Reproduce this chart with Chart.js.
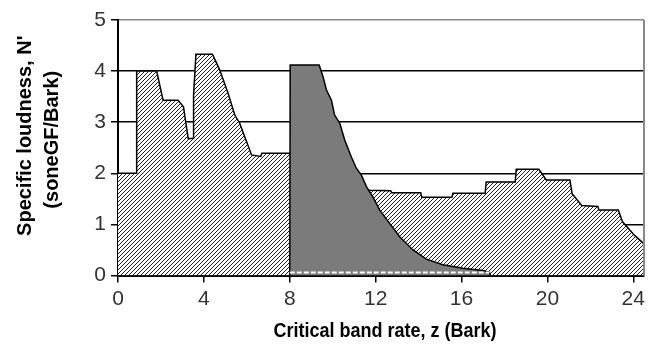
<!DOCTYPE html>
<html>
<head>
<meta charset="utf-8">
<script src="https://cdn.jsdelivr.net/npm/chart.js@4.4.1/dist/chart.umd.min.js"></script>
<style>
  html, body { margin: 0; padding: 0; background: #fff; }
  #wrap { width: 657px; height: 364px; }
</style>
</head>
<body>
<div id="wrap"><canvas id="loudnessChart" width="657" height="364"></canvas></div>
<script>
// total specific loudness (hatched)
const totalZ = [0, 0.85, 0.87, 1.8, 2.1, 2.8, 3.05, 3.27, 3.5, 3.52, 3.63, 4.4, 4.74, 5.13, 5.44, 5.67, 6.22, 6.65, 6.7, 8.0,
  9.0, 10.0, 11.0, 11.7, 12.7, 12.75, 14.1, 14.15, 15.55, 15.6, 17.1, 17.15, 18.5, 18.55, 19.6, 19.95, 21.05, 21.15,
  21.6, 22.35, 22.4, 23.3, 23.5, 23.8, 24.05, 24.5];
const totalN = [2.0, 2.0, 4.0, 4.0, 3.43, 3.43, 3.3, 2.68, 2.68, 3.53, 4.33, 4.33, 4.02, 3.56, 3.14, 2.98, 2.36, 2.33, 2.39, 2.39,
  2.2, 2.0, 1.8, 1.67, 1.66, 1.62, 1.62, 1.53, 1.53, 1.61, 1.61, 1.83, 1.83, 2.08, 2.08, 1.87, 1.87, 1.6,
  1.37, 1.35, 1.28, 1.28, 1.05, 0.91, 0.79, 0.62];

// loudness of the masked component (dark grey)
const maskZ = [8.0, 8.02, 9.37, 9.55, 9.71, 9.94, 10.09, 10.33, 10.56, 10.87, 11.1, 11.33, 11.57, 11.87, 12.19, 12.65,
  13.12, 13.74, 14.36, 15.13, 16.06, 17.0, 17.3, 17.35];
const maskN = [0, 4.12, 4.12, 3.89, 3.63, 3.43, 3.14, 2.98, 2.65, 2.32, 2.1, 1.97, 1.74, 1.54, 1.28, 1.02,
  0.76, 0.5, 0.32, 0.21, 0.14, 0.1, 0.06, 0];

// zero line of the masked component (drawn dashed)
const baseZ = [8.0, 17.3];
const baseN = [0.06, 0.06];

const xTicks = [0, 4, 8, 12, 16, 20, 24];
const yTicks = [0, 1, 2, 3, 4, 5];

const xTitle = 'Critical band rate, z (Bark)';
const yTitle = ["Specific loudness, N'", '(soneGF/Bark)'];

function pts(xs, ys) {
  return xs.map((x, i) => ({ x: x, y: ys[i] }));
}

// diagonal hatch
const pc = document.createElement('canvas');
pc.width = 4; pc.height = 4;
const p = pc.getContext('2d');
p.fillStyle = '#fff';
p.fillRect(0, 0, 4, 4);
p.strokeStyle = '#222';
p.lineWidth = 1;
p.beginPath();
p.moveTo(0, 4); p.lineTo(4, 0);
p.moveTo(-1, 1); p.lineTo(1, -1);
p.moveTo(3, 5); p.lineTo(5, 3);
p.stroke();
const hatch = p.createPattern(pc, 'repeat');

// right border + axis titles (condensed bold, as in the original)
const frame = {
  id: 'frame',
  afterDatasetsDraw(chart) {
    const a = chart.chartArea;
    const c = chart.ctx;
    c.save();
    c.strokeStyle = '#888';
    c.lineWidth = 2;
    c.beginPath();
    c.moveTo(a.right, a.top);
    c.lineTo(a.right, a.bottom);
    c.stroke();
    c.restore();
  },
  afterDraw(chart) {
    const a = chart.chartArea;
    const c = chart.ctx;
    c.save();
    c.fillStyle = '#000';
    c.font = 'bold 20px "Liberation Sans", Arial, sans-serif';
    c.textAlign = 'center';
    c.textBaseline = 'middle';
    // x title
    c.save();
    c.translate((a.left + a.right) / 2 + 4, 331);
    c.scale(0.9, 1);
    c.fillText(xTitle, 0, 0);
    c.restore();
    // y title, two lines
    const mid = (a.top + a.bottom) / 2;
    c.save();
    c.translate(25, mid - 12);
    c.rotate(-Math.PI / 2);
    c.fillText(yTitle[0], 0, 0);
    c.restore();
    c.save();
    c.translate(52, mid - 8);
    c.rotate(-Math.PI / 2);
    c.fillText(yTitle[1], 0, 0);
    c.restore();
    c.restore();
  }
};

const tickFont = { family: 'Liberation Sans, Arial, sans-serif', size: 21 };

const ctx = document.getElementById('loudnessChart').getContext('2d');

const loudnessChart = new Chart(ctx, {
  type: 'line',
  data: {
    datasets: [{
      data: pts(baseZ, baseN),
      borderColor: '#fff',
      borderWidth: 2,
      borderDash: [5, 2],
      pointRadius: 0,
      fill: false
    }, {
      data: pts(maskZ, maskN),
      borderColor: '#000',
      borderWidth: 1.5,
      backgroundColor: '#7b7b7b',
      pointRadius: 0,
      fill: 'origin'
    }, {
      data: pts(totalZ, totalN),
      borderColor: '#000',
      borderWidth: 1.5,
      backgroundColor: hatch,
      pointRadius: 0,
      fill: 'origin'
    }]
  },
  options: {
    responsive: false,
    animation: false,
    layout: { padding: { top: 20, right: 13, left: 0, bottom: 0 } },
    plugins: {
      legend: { display: false },
      tooltip: { enabled: false }
    },
    scales: {
      x: {
        type: 'linear',
        min: 0,
        max: 24.5,
        afterBuildTicks: s => { s.ticks = xTicks.map(v => ({ value: v })); },
        afterFit: s => { s.height = 88.5; },
        grid: { drawOnChartArea: false, color: '#000', tickLength: 7, lineWidth: 1.5 },
        border: { color: '#000', width: 2 },
        ticks: { font: tickFont, color: '#333', padding: 4, maxRotation: 0 }
      },
      y: {
        min: 0,
        max: 5,
        afterBuildTicks: s => { s.ticks = yTicks.map(v => ({ value: v })); },
        afterFit: s => { s.width = 118; },
        grid: {
          color: c => c.tick && c.tick.value === 5 ? '#888' : '#000',
          tickColor: '#000',
          tickLength: 7,
          lineWidth: 1.5
        },
        border: { color: '#000', width: 2 },
        ticks: { font: tickFont, color: '#333', padding: 5 }
      }
    }
  },
  plugins: [frame]
});
</script>
</body>
</html>
